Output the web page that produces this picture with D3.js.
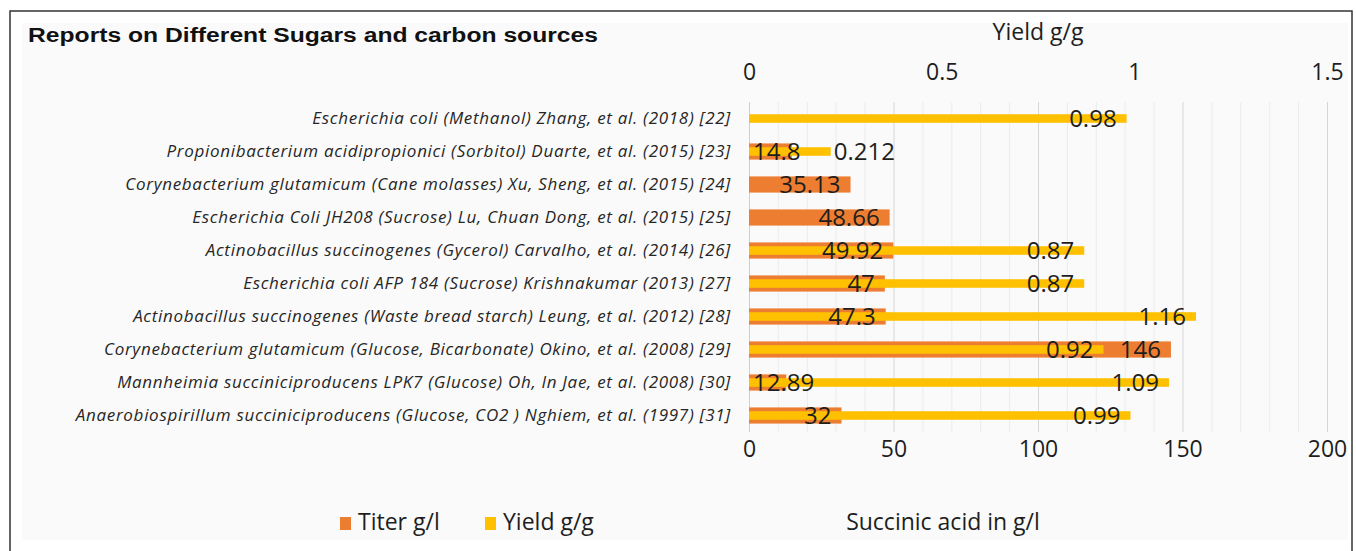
<!DOCTYPE html>
<html>
<head>
<meta charset="utf-8">
<script src="https://cdn.jsdelivr.net/npm/d3@7"></script>
<style>
  body { margin: 0; background: #fff; }
  svg text { font-family: "Open Sans", sans-serif; fill: #1e1e1e; }
</style>
</head>
<body>
<div id="container"></div>
<script>
/* DATA */
const studies = [
  "Escherichia coli (Methanol) Zhang, et al. (2018) [22]",
  "Propionibacterium acidipropionici (Sorbitol) Duarte, et al. (2015) [23]",
  "Corynebacterium glutamicum (Cane molasses) Xu, Sheng, et al. (2015) [24]",
  "Escherichia Coli JH208 (Sucrose) Lu, Chuan Dong, et al. (2015) [25]",
  "Actinobacillus succinogenes (Gycerol) Carvalho, et al. (2014) [26]",
  "Escherichia coli AFP 184 (Sucrose) Krishnakumar (2013) [27]",
  "Actinobacillus succinogenes (Waste bread starch) Leung, et al. (2012) [28]",
  "Corynebacterium glutamicum (Glucose, Bicarbonate) Okino, et al. (2008) [29]",
  "Mannheimia succiniciproducens LPK7 (Glucose) Oh, In Jae, et al. (2008) [30]",
  "Anaerobiospirillum succiniciproducens (Glucose, CO2 ) Nghiem, et al. (1997) [31]"
];
const titer = [null, 14.8, 35.13, 48.66, 49.92, 47, 47.3, 146, 12.89, 32];
const yieldGG = [0.98, 0.212, null, null, 0.87, 0.87, 1.16, 0.92, 1.09, 0.99];
const titerTicks = [0, 50, 100, 150, 200];
const yieldTicks = [0, 0.5, 1, 1.5];
const seriesNames = ["Titer g/l", "Yield g/g"];

/* CONSTANTS */
const width = 1356, height = 551;
const plot = {left: 749, right: 1327, top: 102, bottom: 432};
const colors = {titer: "#ED7D31", yield: "#FFC000"};
const labelPad = 10;

const rows = studies.map((s, i) => ({name: s, titer: titer[i], yield: yieldGG[i]}));

// scales: both series share the same pixel span, titer on bottom, yield on top
const xTiter = d3.scaleLinear().domain([0, 200]).range([plot.left, plot.right]);
const xYield = d3.scaleLinear().domain([0, 1.5]).range([plot.left, plot.right]);
const yScale = d3.scaleBand().domain(studies).range([plot.top, plot.bottom]).padding(0);
const bw = yScale.bandwidth();

const svg = d3.select("#container").append("svg")
  .attr("width", width)
  .attr("height", height);

// frame + chart area
svg.append("rect")
  .attr("x", 22).attr("y", 23)
  .attr("width", 1326).attr("height", 517)
  .attr("fill", "#fafafa");
svg.append("rect")
  .attr("x", 10).attr("y", 11)
  .attr("width", 1342).attr("height", 600)
  .attr("fill", "none")
  .attr("stroke", "#333")
  .attr("stroke-width", 1.5);

// title
svg.append("text")
  .attr("x", 28).attr("y", 42)
  .attr("textLength", 570)
  .attr("lengthAdjust", "spacingAndGlyphs")
  .style("font-family", "'Liberation Sans', Arial, sans-serif")
  .style("font-weight", "bold")
  .style("font-size", "20px")
  .style("fill", "#111")
  .text("Reports on Different Sugars and carbon sources");

// gridlines every 10 g/l, darker every 50
const gridVals = d3.range(0, 201, 10);
svg.append("g").selectAll("line")
  .data(gridVals)
  .join("line")
  .attr("x1", d => xTiter(d) + 0.5).attr("x2", d => xTiter(d) + 0.5)
  .attr("y1", plot.top).attr("y2", plot.bottom)
  .attr("stroke", d => d % 50 === 0 ? "#d6d6d6" : "#ececec")
  .attr("stroke-width", 1);

// axes (labels only, Excel style)
const bottomAxis = d3.axisBottom(xTiter).tickValues(titerTicks).tickSize(0).tickPadding(0);
const topAxis = d3.axisTop(xYield).tickValues(yieldTicks).tickSize(0).tickPadding(0)
  .tickFormat(d3.format("~g"));

const gBottom = svg.append("g").attr("transform", `translate(0, ${plot.bottom})`).call(bottomAxis);
gBottom.select(".domain").remove();
gBottom.selectAll("text")
  .attr("dy", null).attr("y", 25)
  .style("font-size", "23px").style("font-family", "'Open Sans', sans-serif");

const gTop = svg.append("g").attr("transform", `translate(0, ${plot.top})`).call(topAxis);
gTop.select(".domain").remove();
gTop.selectAll("text")
  .attr("dy", null).attr("y", -22)
  .style("font-size", "23px").style("font-family", "'Open Sans', sans-serif");

// category labels
svg.append("g").selectAll("text")
  .data(rows)
  .join("text")
  .attr("x", plot.left - 18)
  .attr("y", d => yScale(d.name) + bw / 2)
  .attr("dy", "0.35em")
  .attr("text-anchor", "end")
  .style("font-style", "italic")
  .style("font-size", "17px")
  .style("letter-spacing", "0.7px")
  .style("fill", "#262626")
  .text(d => d.name);

// category axis line
svg.append("line")
  .attr("x1", plot.left + 0.5).attr("x2", plot.left + 0.5)
  .attr("y1", plot.top).attr("y2", plot.bottom)
  .attr("stroke", "#cfcfcf");

// titer bars (primary)
const titerRows = rows.filter(d => d.titer != null);
const yieldRows = rows.filter(d => d.yield != null);
const hT = bw * 0.49, hY = bw * 0.26;

svg.append("g").selectAll("rect")
  .data(titerRows)
  .join("rect")
  .attr("x", plot.left)
  .attr("y", d => yScale(d.name) + (bw - hT) / 2)
  .attr("width", d => xTiter(d.titer) - plot.left)
  .attr("height", hT)
  .attr("fill", colors.titer);

// yield bars (secondary, drawn over)
svg.append("g").selectAll("rect")
  .data(yieldRows)
  .join("rect")
  .attr("x", plot.left)
  .attr("y", d => yScale(d.name) + (bw - hY) / 2)
  .attr("width", d => xYield(d.yield) - plot.left)
  .attr("height", hY)
  .attr("fill", colors.yield);

// data labels, inside end
const titerBox = {};
svg.append("g").selectAll("text")
  .data(titerRows)
  .join("text")
  .attr("y", d => yScale(d.name) + bw / 2)
  .attr("dy", "0.35em")
  .style("font-size", "24px")
  .text(d => d.titer)
  .each(function(d) {
    const w = this.getComputedTextLength();
    const x = Math.max(plot.left + 4, xTiter(d.titer) - labelPad - w);
    d3.select(this).attr("x", x);
    titerBox[d.name] = [x, x + w];
  });

svg.append("g").selectAll("text")
  .data(yieldRows)
  .join("text")
  .attr("y", d => yScale(d.name) + bw / 2)
  .attr("dy", "0.35em")
  .style("font-size", "24px")
  .text(d => d.yield)
  .each(function(d) {
    const w = this.getComputedTextLength();
    let x = xYield(d.yield) - labelPad - w;
    // if it would run into the titer label, push it outside the bar end
    const b = titerBox[d.name];
    if (b && x < b[1] + 4 && x + w > b[0] - 4) x = xYield(d.yield) + 3;
    d3.select(this).attr("x", x);
  });

// axis titles
svg.append("text")
  .attr("x", (plot.left + plot.right) / 2).attr("y", 40)
  .attr("text-anchor", "middle")
  .style("font-size", "23px")
  .text("Yield g/g");

svg.append("text")
  .attr("x", 943).attr("y", 530)
  .attr("text-anchor", "middle")
  .style("font-size", "23px")
  .text("Succinic acid in g/l");

// legend
const legend = svg.append("g").attr("transform", "translate(340, 530)");
const items = legend.selectAll("g")
  .data(seriesNames)
  .join("g")
  .attr("transform", (d, i) => `translate(${i * 145}, 0)`);
items.append("rect")
  .attr("x", 0).attr("y", -13)
  .attr("width", 11).attr("height", 13)
  .attr("fill", (d, i) => i === 0 ? colors.titer : colors.yield);
items.append("text")
  .attr("x", 18).attr("y", 0)
  .style("font-size", "23px")
  .text(d => d);
</script>
</body>
</html>
